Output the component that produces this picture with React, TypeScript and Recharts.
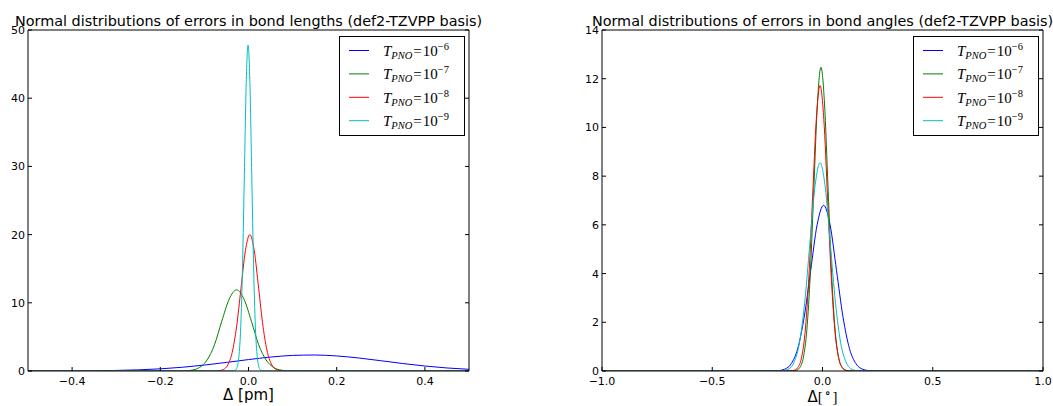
import { LineChart, Line, XAxis, YAxis, Legend } from "recharts";

const seriesColors = ["#0000ff", "#008000", "#ff0000", "#00bfbf"];
const tpnoExponents = [-6, -7, -8, -9];

// bond lengths panel (x in pm)
const len6X = [-0.5, -0.45, -0.4, -0.35, -0.3, -0.25, -0.2, -0.15, -0.1, -0.05, 0, 0.05, 0.1, 0.15, 0.2, 0.25, 0.3, 0.35, 0.4, 0.45, 0.5];
const len6Y = [0.002, 0.006, 0.015, 0.037, 0.083, 0.169, 0.318, 0.548, 0.867, 1.258, 1.674, 2.043, 2.286, 2.346, 2.208, 1.906, 1.509, 1.096, 0.73, 0.446, 0.249];
const len7X = [-0.5, -0.161, -0.144, -0.128, -0.111, -0.094, -0.077, -0.061, -0.044, -0.027, -0.01, 0.007, 0.023, 0.04, 0.057, 0.074, 0.09, 0.107, 0.5];
const len7Y = [0, 0.004, 0.026, 0.13, 0.52, 1.61, 3.86, 7.22, 10.5, 11.9, 10.5, 7.22, 3.86, 1.61, 0.52, 0.13, 0.026, 0.004, 0];
const len8X = [-0.5, -0.077, -0.067, -0.057, -0.047, -0.037, -0.027, -0.017, -0.007, 0.003, 0.013, 0.023, 0.033, 0.043, 0.053, 0.063, 0.073, 0.083, 0.5];
const len8Y = [0, 0.006, 0.044, 0.22, 0.88, 2.71, 6.49, 12.13, 17.65, 20, 17.65, 12.13, 6.49, 2.71, 0.88, 0.22, 0.044, 0.006, 0];
const len9X = [-0.5, -0.0342, -0.0301, -0.0259, -0.0218, -0.0176, -0.0135, -0.0093, -0.0052, -0.001, 0.0032, 0.0073, 0.0115, 0.0156, 0.0198, 0.0239, 0.0281, 0.0322, 0.5];
const len9Y = [0, 0.014, 0.105, 0.53, 2.1, 6.47, 15.52, 28.99, 42.18, 47.8, 42.18, 28.99, 15.52, 6.47, 2.1, 0.53, 0.105, 0.014, 0];

// bond angles panel (x in degrees)
const ang6X = [-1, -0.2298, -0.2005, -0.1711, -0.1418, -0.1124, -0.0831, -0.0537, -0.0244, 0.005, 0.0344, 0.0637, 0.0931, 0.1224, 0.1518, 0.1811, 0.2105, 0.2398, 1];
const ang6Y = [0, 0.002, 0.015, 0.075, 0.3, 0.92, 2.21, 4.12, 6.0, 6.8, 6.0, 4.12, 2.21, 0.92, 0.3, 0.075, 0.015, 0.002, 0];
const ang7X = [-1, -0.135, -0.119, -0.103, -0.087, -0.071, -0.055, -0.039, -0.023, -0.007, 0.009, 0.025, 0.041, 0.057, 0.073, 0.089, 0.105, 0.121, 1];
const ang7Y = [0, 0.004, 0.027, 0.14, 0.55, 1.69, 4.05, 7.56, 11.0, 12.47, 11.0, 7.56, 4.05, 1.69, 0.55, 0.14, 0.027, 0.004, 0];
const ang8X = [-1, -0.147, -0.13, -0.113, -0.096, -0.079, -0.062, -0.045, -0.028, -0.011, 0.006, 0.023, 0.04, 0.057, 0.074, 0.091, 0.108, 0.125, 1];
const ang8Y = [0, 0.004, 0.026, 0.13, 0.51, 1.59, 3.81, 7.11, 10.34, 11.72, 10.34, 7.11, 3.81, 1.59, 0.51, 0.13, 0.026, 0.004, 0];
const ang9X = [-1, -0.1978, -0.1745, -0.1511, -0.1278, -0.1044, -0.0811, -0.0577, -0.0344, -0.011, 0.0124, 0.0357, 0.0591, 0.0824, 0.1058, 0.1291, 0.1525, 0.1758, 1];
const ang9Y = [0, 0.003, 0.019, 0.095, 0.38, 1.16, 2.78, 5.19, 7.55, 8.55, 7.55, 5.19, 2.78, 1.16, 0.38, 0.095, 0.019, 0.003, 0];

const lenXTicks = [-0.4, -0.2, 0, 0.2, 0.4];
const lenYTicks = [0, 10, 20, 30, 40, 50];
const angXTicks = [-1, -0.5, 0, 0.5, 1];
const angYTicks = [0, 2, 4, 6, 8, 10, 12, 14];

const zip = (xs: number[], ys: number[]) => xs.map((x, i) => ({ x, y: ys[i] }));

const lenSeries = [zip(len6X, len6Y), zip(len7X, len7Y), zip(len8X, len8Y), zip(len9X, len9Y)];
const angSeries = [zip(ang6X, ang6Y), zip(ang7X, ang7Y), zip(ang8X, ang8Y), zip(ang9X, ang9Y)];

const sans = "DejaVu Sans, sans-serif";
const serif = "Liberation Serif, DejaVu Serif, serif";

const minus = (s: string) => s.replace("-", "\u2212");

// matplotlib-style inward ticks
const BottomTick = (p: any) => (
  <g>
    <line x1={p.x} x2={p.x} y1={p.y} y2={p.y - 4} stroke="#000" />
    <text x={p.x} y={p.y + 14} textAnchor="middle" fontSize={11} fontFamily={sans} fill="#000">
      {minus(p.fmt(p.payload.value))}
    </text>
  </g>
);
const TopTick = (p: any) => <line x1={p.x} x2={p.x} y1={p.y} y2={p.y + 4} stroke="#000" />;
const LeftTick = (p: any) => (
  <g>
    <line x1={p.x} x2={p.x + 4} y1={p.y} y2={p.y} stroke="#000" />
    <text x={p.x - 3} y={p.y + 4} textAnchor="end" fontSize={11} fontFamily={sans} fill="#000">
      {p.payload.value}
    </text>
  </g>
);
const RightTick = (p: any) => <line x1={p.x} x2={p.x - 4} y1={p.y} y2={p.y} stroke="#000" />;

function LegendBox({ payload }: any) {
  const items = [...(payload || [])].sort(
    (a: any, b: any) => tpnoExponents.indexOf(Number(a.value)) - tpnoExponents.indexOf(Number(b.value))
  );
  return (
    <div style={{ width: 126, height: 100, border: "1px solid #000", boxSizing: "border-box", background: "#fff" }}>
      <svg width={124} height={98} style={{ display: "block" }}>
        {items.map((it: any, i: number) => {
          const cy = 13.5 + i * 23.4;
          return (
            <g key={i}>
              <line x1={9} x2={29} y1={cy} y2={cy} stroke={it.color} strokeWidth={1} />
              <text x={43} y={cy + 5.5} fontFamily={serif} fontSize={15} fill="#000">
                <tspan fontStyle="italic">T</tspan>
                <tspan fontStyle="italic" fontSize={10.5} dy={3}>PNO</tspan>
                <tspan dy={-3} dx={1}>=</tspan>
                <tspan dx={1}>10</tspan>
                <tspan fontSize={10.5} dy={-6}>{minus(String(it.value))}</tspan>
              </text>
            </g>
          );
        })}
      </svg>
    </div>
  );
}

function Panel({ width, margin, series, xDomain, xTicks, yDomain, yTicks, fmt, title, xLabel, legendLeft }: any) {
  return (
    <LineChart width={width} height={406} margin={margin}>
      <XAxis
        xAxisId="b"
        type="number"
        dataKey="x"
        domain={xDomain}
        ticks={xTicks}
        interval={0}
        allowDataOverflow
        height={1}
        tickSize={0}
        tickMargin={0}
        tickLine={false}
        axisLine={{ stroke: "#000" }}
        tick={(p: any) => <BottomTick {...p} fmt={fmt} />}
        label={(p: any) => xLabel(p.viewBox)}
      />
      <XAxis
        xAxisId="t"
        orientation="top"
        type="number"
        domain={xDomain}
        ticks={xTicks}
        interval={0}
        allowDataOverflow
        height={1}
        tickSize={0}
        tickMargin={0}
        tickLine={false}
        axisLine={{ stroke: "#000" }}
        tick={(p: any) => <TopTick {...p} />}
        label={(p: any) => (
          <text
            x={p.viewBox.x + p.viewBox.width / 2}
            y={p.viewBox.y + p.viewBox.height - 4}
            textAnchor="middle"
            fontSize={14.4}
            fontFamily={sans}
            fill="#000"
          >
            {title}
          </text>
        )}
      />
      <YAxis
        yAxisId="l"
        type="number"
        domain={yDomain}
        ticks={yTicks}
        interval={0}
        allowDataOverflow
        width={1}
        tickSize={0}
        tickMargin={0}
        tickLine={false}
        axisLine={{ stroke: "#000" }}
        tick={(p: any) => <LeftTick {...p} />}
      />
      <YAxis
        yAxisId="r"
        orientation="right"
        type="number"
        domain={yDomain}
        ticks={yTicks}
        interval={0}
        allowDataOverflow
        width={1}
        tickSize={0}
        tickMargin={0}
        tickLine={false}
        axisLine={{ stroke: "#000" }}
        tick={(p: any) => <RightTick {...p} />}
      />
      <Legend
        layout="horizontal"
        verticalAlign="middle"
        align="center"
        wrapperStyle={{ left: legendLeft, top: 36, width: 126, height: 100 }}
        content={(p: any) => <LegendBox payload={p.payload} />}
      />
      {series.map((d: any[], i: number) => (
        <Line
          key={i}
          data={d}
          xAxisId="b"
          yAxisId="l"
          dataKey="y"
          name={String(tpnoExponents[i])}
          type="monotone"
          stroke={seriesColors[i]}
          strokeWidth={1}
          dot={false}
          activeDot={false}
          isAnimationActive={false}
        />
      ))}
    </LineChart>
  );
}

export default function App() {
  return (
    <div style={{ position: "absolute", left: 0, top: 0, width: 1053, height: 406, background: "#fff" }}>
      <div style={{ position: "absolute", left: 0, top: 0 }}>
        <Panel
          width={500}
          margin={{ top: 29, left: 27, right: 30, bottom: 34 }}
          series={lenSeries}
          xDomain={[-0.5, 0.5]}
          xTicks={lenXTicks}
          yDomain={[0, 50]}
          yTicks={lenYTicks}
          fmt={(v: number) => v.toFixed(1)}
          title="Normal distributions of errors in bond lengths (def2-TZVPP basis)"
          xLabel={(vb: any) => (
            <text x={vb.x + vb.width / 2} y={vb.y + 29} textAnchor="middle" fontSize={15} fontFamily={sans} fill="#000">
              Δ [pm]
            </text>
          )}
          legendLeft={339}
        />
      </div>
      <div style={{ position: "absolute", left: 540, top: 0 }}>
        <Panel
          width={513}
          margin={{ top: 29, left: 61, right: 9, bottom: 34 }}
          series={angSeries}
          xDomain={[-1, 1]}
          xTicks={angXTicks}
          yDomain={[0, 14]}
          yTicks={angYTicks}
          fmt={(v: number) => v.toFixed(1)}
          title="Normal distributions of errors in bond angles (def2-TZVPP basis)"
          xLabel={(vb: any) => (
            <text x={vb.x + vb.width / 2} y={vb.y + 31} textAnchor="middle" fontSize={15} fontFamily={serif} fill="#000">
              <tspan fontFamily={sans}>Δ</tspan>
              <tspan>[</tspan>
              <tspan fontSize={12} dx={2} dy={-5}>{"\u2218"}</tspan>
              <tspan dx={2} dy={5}>]</tspan>
            </text>
          )}
          legendLeft={373}
        />
      </div>
    </div>
  );
}
